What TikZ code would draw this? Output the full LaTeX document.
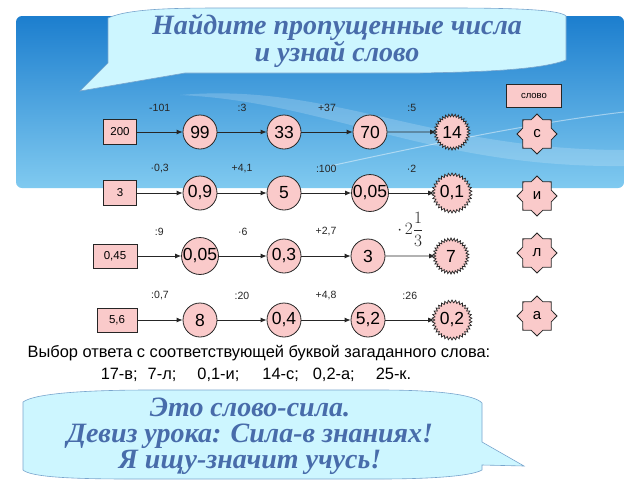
\documentclass[tikz,border=0pt]{standalone}
\usepackage{fontspec}
\setmainfont{Liberation Sans}
\newfontfamily\serifbi{Liberation Serif}
\usepackage{tikz}
\usetikzlibrary{shapes.geometric, arrows.meta, positioning, calc}
\definecolor{skyblue}{RGB}{28,126,206}
\definecolor{paleblue}{RGB}{128,202,240}
\definecolor{bubblecyan}{RGB}{205,246,255}
\definecolor{bubbleline}{RGB}{120,165,205}
\definecolor{titleblue}{RGB}{72,108,170}
\definecolor{pinkfill}{RGB}{250,202,202}

\tikzset{
  numbox/.style={draw=black!85, fill=pinkfill, line width=0.8pt, minimum height=25pt, inner sep=0pt, font=\fontsize{11.5}{13}\selectfont},
  numcirc/.style={circle, draw=black!85, fill=pinkfill, line width=0.8pt, minimum size=34pt, inner sep=0pt, font=\fontsize{17.5}{19}\selectfont},
  sunnode/.style={star, star points=34, star point height=2.8pt, draw=black!85, fill=pinkfill, line width=0.7pt, minimum size=36pt, inner sep=0pt, font=\fontsize{17.5}{19}\selectfont},
  letterstar/.style={star, star points=8, star point ratio=1.3, draw=black!85, fill=pinkfill, line width=0.8pt, minimum size=40pt, inner sep=0pt, font=\fontsize{15}{17}\selectfont},
  oplabel/.style={inner sep=1pt, font=\fontsize{10.5}{12}\selectfont},
  flow/.style={-{Latex[length=6pt,width=5pt]}, line width=0.8pt, black!85},
  callout/.style={fill=bubblecyan, draw=bubbleline, line width=0.6pt},
  calltext/.style={text=titleblue, font=\serifbi\bfseries\itshape\fontsize{28}{26}\selectfont, align=center}
}

\begin{document}
\begin{tikzpicture}[x=1pt, y=-1pt]
\useasboundingbox (0,0) rectangle (640,480);
\fill[white] (0,0) rectangle (640,480);

% Blue band behind the first rows
\begin{scope}
\clip[rounded corners=6pt] (16,16) rectangle (624,188);
\shade[top color=skyblue, bottom color=paleblue] (16,16) rectangle (624,188);
\fill[white, opacity=0.18] (180,95) .. controls (330,82) and (430,150) .. (624,150) -- (624,166) .. controls (430,168) and (330,102) .. (180,95) -- cycle;
\draw[white, opacity=0.45, line width=1pt] (330,166) .. controls (450,140) and (540,122) .. (624,112);
\end{scope}

% Title callout
\draw[callout] (108,63) -- (108,18) .. controls (130,8) and (180,8) .. (230,8) -- (450,8) .. controls (520,8) and (560,10) .. (566,16) -- (566,60) .. controls (540,70) and (480,72) .. (420,73) -- (185,73) -- (80,91) -- cycle;
\node[calltext] (title) at (337,41) {Найдите пропущенные числа\\и узнай слово};

% Row 1
\node[numbox, minimum width=33pt] (s1) at (120,132) {200};
\node[numcirc] (a1) at (200,132) {99};
\node[numcirc] (b1) at (284,132) {33};
\node[numcirc] (c1) at (370,132) {70};
\node[sunnode] (d1) at (452,132) {14};

% Row 2
\node[numbox, minimum width=33pt] (s2) at (120,193) {3};
\node[numcirc] (a2) at (200,193) {0,9};
\node[numcirc] (b2) at (284,193) {5};
\node[numcirc] (c2) at (370,193) {0,05};
\node[sunnode] (d2) at (452,193) {0,1};

% Row 3
\node[numbox, minimum width=44pt, minimum height=24pt] (s3) at (115,256) {0,45};
\node[numcirc] (a3) at (200,256) {0,05};
\node[numcirc] (b3) at (284,256) {0,3};
\node[numcirc] (c3) at (368,256) {3};
\node[sunnode] (d3) at (451,256) {7};

% Row 4
\node[numbox, minimum width=40pt, minimum height=24pt] (s4) at (117,320) {5,6};
\node[numcirc] (a4) at (200,320) {8};
\node[numcirc] (b4) at (284,320) {0,4};
\node[numcirc] (c4) at (368,320) {5,2};
\node[sunnode] (d4) at (452,320) {0,2};

% Operations
\draw[flow] (s1) -- node[oplabel, above=19pt] {-101} (a1);
\draw[flow] (a1) -- node[oplabel, above=19pt] {:3} (b1);
\draw[flow] (b1) -- node[oplabel, above=19pt] {+37} (c1);
\draw[flow] (c1) -- node[oplabel, above=19pt] {:5} (d1);

\draw[flow] (s2) -- node[oplabel, above=19pt] {·0,3} (a2);
\draw[flow] (a2) -- node[oplabel, above=19pt] {+4,1} (b2);
\draw[flow] (b2) -- node[oplabel, above=19pt] {:100} (c2);
\draw[flow] (c2) -- node[oplabel, above=19pt] {·2} (d2);

\draw[flow] (s3) -- node[oplabel, above=19pt] {:9} (a3);
\draw[flow] (a3) -- node[oplabel, above=19pt] {·6} (b3);
\draw[flow] (b3) -- node[oplabel, above=19pt] {+2,7} (c3);
\draw[flow] (c3) -- node[oplabel, above=8pt, font=\fontsize{16}{18}\selectfont] {$\cdot\,2\displaystyle\frac{1}{3}$} (d3);

\draw[flow] (s4) -- node[oplabel, above=19pt] {:0,7} (a4);
\draw[flow] (a4) -- node[oplabel, above=19pt] {:20} (b4);
\draw[flow] (b4) -- node[oplabel, above=19pt] {+4,8} (c4);
\draw[flow] (c4) -- node[oplabel, above=19pt] {:26} (d4);

% Letters of the word
\node[numbox, minimum width=55pt, minimum height=23pt, font=\fontsize{9.5}{11}\selectfont] (word) at (534,96) {слово};
\node[letterstar] (l1) at (537,134) {с};
\node[letterstar] (l2) at (537,196) {и};
\node[letterstar] (l3) at (537,253) {л};
\node[letterstar] (l4) at (537,316) {а};

% Answer choice
\node[font=\fontsize{16.4}{18}\selectfont] (choice) at (259,353) {Выбор ответа с соответствующей буквой загаданного слова:};
\node[font=\fontsize{16.4}{18}\selectfont] (answers) at (256,375) {17-в;\hspace{10pt}7-л;\hspace{21pt}0,1-и;\hspace{23pt}14-с;\hspace{14pt}0,2-а;\hspace{21pt}25-к.};

% Closing callout
\draw[callout] (23,402) .. controls (35,393) and (90,390) .. (150,390) -- (380,390) .. controls (440,390) and (475,395) .. (482,403) -- (482,442) -- (524,466) -- (482,465) -- (482,470) .. controls (470,477) and (420,479) .. (380,479) -- (130,479) .. controls (60,479) and (30,476) .. (23,470) -- cycle;
\node[calltext] (motto) at (250,436) {Это слово-сила.\\Девиз урока: Сила-в знаниях!\\Я ищу-значит учусь!};

\end{tikzpicture}
\end{document}
